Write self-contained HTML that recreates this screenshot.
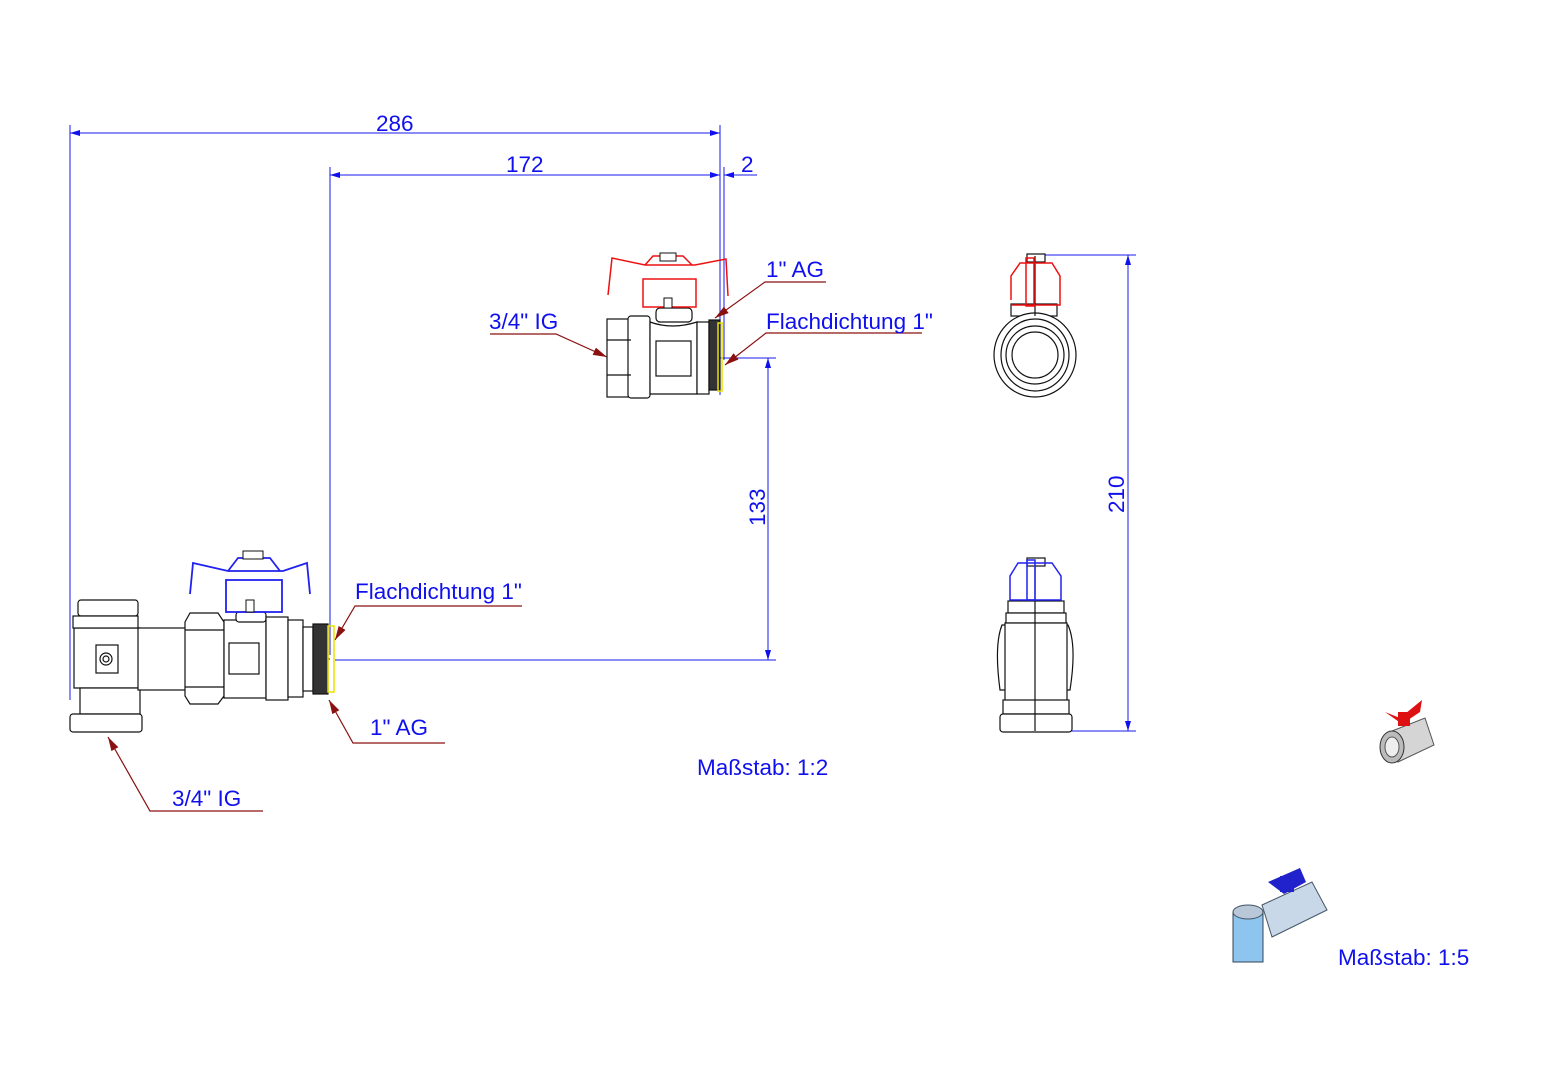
<!DOCTYPE html>
<html><head><meta charset="utf-8"><style>
html,body{margin:0;padding:0;background:#fff;}
svg{display:block}
text{font-family:"Liberation Sans",Arial,sans-serif;fill:#1010ee;font-size:22.5px}
</style></head><body>
<svg width="1541" height="1080" viewBox="0 0 1541 1080" xmlns="http://www.w3.org/2000/svg">
<defs>
<marker id="ab" viewBox="0 0 10 6" refX="10" refY="3" markerWidth="10" markerHeight="6" orient="auto-start-reverse" markerUnits="userSpaceOnUse"><path d="M0,0 L10,3 L0,6z" fill="#1010ee"/></marker>
<marker id="ar" viewBox="0 0 14 8" refX="14" refY="4" markerWidth="14" markerHeight="8" orient="auto" markerUnits="userSpaceOnUse"><path d="M0,0 L14,4 L0,8z" fill="#8b1010"/></marker>
</defs>
<g stroke="#1a1aee" stroke-width="1" fill="none">
<line x1="70" y1="125" x2="70" y2="700"/>
<line x1="720" y1="125" x2="720" y2="395"/>
<line x1="330" y1="167" x2="330" y2="655"/>
<line x1="724" y1="167" x2="724" y2="360"/>
<line x1="70" y1="133" x2="720" y2="133" marker-start="url(#ab)" marker-end="url(#ab)"/>
<line x1="330" y1="175" x2="720" y2="175" marker-start="url(#ab)" marker-end="url(#ab)"/>
<line x1="757" y1="175" x2="724" y2="175" marker-end="url(#ab)"/>
<line x1="700" y1="175" x2="720" y2="175"/>
<line x1="710" y1="358" x2="776" y2="358"/>
<line x1="335" y1="660" x2="776" y2="660"/>
<line x1="768" y1="358" x2="768" y2="660" marker-start="url(#ab)" marker-end="url(#ab)"/>
<line x1="1030" y1="255" x2="1136" y2="255"/>
<line x1="1030" y1="731" x2="1136" y2="731"/>
<line x1="1128" y1="255" x2="1128" y2="731" marker-start="url(#ab)" marker-end="url(#ab)"/>
<line x1="612" y1="352" x2="720" y2="352" stroke-dasharray="6,3"/>
<line x1="200" y1="659" x2="330" y2="659" stroke-dasharray="6,3"/>
</g>
<text x="376" y="131">286</text>
<text x="506" y="172">172</text>
<text x="741" y="172">2</text>
<text transform="translate(765,526) rotate(-90)">133</text>
<text transform="translate(1124,513) rotate(-90)">210</text>

<g stroke="#8b1010" stroke-width="1.2" fill="none">
<polyline points="490,334 556,334 607,357" marker-end="url(#ar)"/>
<polyline points="826,282 765,282 715,318" marker-end="url(#ar)"/>
<polyline points="922,333 766,333 725,365" marker-end="url(#ar)"/>
<polyline points="522,606 355,606 335,640" marker-end="url(#ar)"/>
<polyline points="445,743 353,743 329,700" marker-end="url(#ar)"/>
<polyline points="263,811 150,811 108,737" marker-end="url(#ar)"/>
</g>
<text x="489" y="329">3/4" IG</text>
<text x="766" y="277">1" AG</text>
<text x="766" y="329">Flachdichtung 1"</text>
<text x="355" y="599">Flachdichtung 1"</text>
<text x="370" y="735">1" AG</text>
<text x="172" y="806">3/4" IG</text>
<text x="697" y="775">Maßstab: 1:2</text>
<text x="1338" y="965">Maßstab: 1:5</text>

<g stroke="#111" stroke-width="1.2" fill="#fff">
<rect x="607" y="319" width="24" height="78"/>
<rect x="628" y="316" width="22" height="82" rx="3"/>
<path d="M650,322 L650,394 L697,394 L697,322 Q672,330 650,322z"/>
<rect x="656" y="308" width="36" height="14" rx="4"/>
<rect x="656" y="341" width="35" height="35"/>
<rect x="697" y="322" width="12" height="72"/>
<rect x="709" y="320" width="11" height="70" fill="#333"/>
<line x1="607" y1="340" x2="631" y2="340"/><line x1="607" y1="375" x2="631" y2="375"/>
</g>
<rect x="718" y="323" width="4" height="68" fill="none" stroke="#e8e000" stroke-width="1.5"/>
<g stroke="#ee1010" stroke-width="1.5" fill="none">
<path d="M608,295 L612,258 L645,265 L695,265 L726,259 L728,296"/>
<path d="M645,265 L653,256 L683,256 L692,265"/>
<rect x="643" y="279" width="53" height="28"/>
</g>
<rect x="660" y="253" width="16" height="8" fill="#fff" stroke="#111"/>
<rect x="664" y="298" width="8" height="10" fill="#fff" stroke="#111"/>

<g stroke="#111" stroke-width="1.2" fill="#fff">
<rect x="78" y="600" width="60" height="16" rx="3"/>
<path d="M74,628 L74,688 L140,688 L140,628z"/>
<rect x="73" y="616" width="65" height="12"/>
<rect x="80" y="688" width="60" height="26"/>
<rect x="70" y="714" width="72" height="18" rx="3"/>
<rect x="96" y="645" width="22" height="28"/>
<circle cx="106" cy="659" r="6"/><circle cx="106" cy="659" r="3"/>
<rect x="138" y="628" width="48" height="62"/>
<path d="M185,622 L190,613 L218,613 L224,622 L224,696 L218,704 L190,704 L185,696z"/>
<line x1="185" y1="630" x2="224" y2="630"/><line x1="185" y1="687" x2="224" y2="687"/>
<rect x="224" y="620" width="42" height="78"/>
<rect x="229" y="643" width="30" height="31"/>
<rect x="236" y="612" width="30" height="10" rx="3"/>
<rect x="266" y="617" width="22" height="83"/>
<rect x="288" y="620" width="15" height="77"/>
<rect x="303" y="627" width="10" height="64"/>
<rect x="313" y="624" width="15" height="70" fill="#333"/>
</g>
<rect x="328" y="626" width="6" height="66" fill="none" stroke="#e8e000" stroke-width="1.5"/>
<g stroke="#2222ee" stroke-width="1.8" fill="none">
<path d="M190,594 L193,563 L228,571 L283,571 L307,563 L310,594"/>
<path d="M228,571 L238,558 L270,558 L280,571"/>
<rect x="226" y="580" width="56" height="32"/>
</g>
<rect x="243" y="551" width="20" height="8" fill="#fff" stroke="#111"/>
<rect x="246" y="600" width="8" height="12" fill="#fff" stroke="#111"/>

<g stroke="#111" stroke-width="1.2" fill="#fff">
<rect x="1011" y="304" width="46" height="12"/>
<ellipse cx="1035" cy="355" rx="41" ry="42"/>
<ellipse cx="1035" cy="355" rx="34" ry="36"/>
<circle cx="1035" cy="355" r="29"/>
<circle cx="1035" cy="355" r="23"/>
<rect x="1027" y="254" width="18" height="8"/>
<rect x="1008" y="601" width="56" height="12"/>
<rect x="1006" y="613" width="60" height="10"/>
<path d="M1002,625 Q994,645 1000,690 L1070,690 Q1077,645 1068,625z"/>
<rect x="1005" y="623" width="62" height="78"/>
<rect x="1003" y="700" width="66" height="14"/>
<rect x="1000" y="714" width="72" height="18" rx="3"/>
<line x1="1035" y1="256" x2="1035" y2="316"/>
<line x1="1035" y1="560" x2="1035" y2="731"/>
<rect x="1027" y="558" width="18" height="8"/>
</g>
<g stroke="#ee1010" stroke-width="1.5" fill="none">
<path d="M1011,300 L1011,276 L1020,263 L1052,263 L1060,276 L1060,305 L1011,305"/>
<rect x="1026" y="258" width="8" height="48"/>
</g>
<g stroke="#2222ee" stroke-width="1.5" fill="none">
<path d="M1010,600 L1010,576 L1018,563 L1052,563 L1061,576 L1061,600z"/>
<rect x="1027" y="560" width="8" height="40"/>
</g>

<g>
<path d="M1392,731 L1425,718 L1434,745 L1398,762z" fill="#d5d5d5" stroke="#555"/>
<ellipse cx="1392" cy="747" rx="12" ry="16" fill="#bbb" stroke="#333"/>
<ellipse cx="1392" cy="747" rx="7" ry="10" fill="#eee" stroke="#555"/>
<path d="M1385,712 L1400,718 L1422,700 L1420,712 L1402,724z" fill="#dd1111"/>
<rect x="1398" y="712" width="12" height="14" fill="#dd1111"/>
<path d="M1262,905 L1312,882 L1327,910 L1272,937z" fill="#c8d8e8" stroke="#456"/>
<rect x="1233" y="912" width="30" height="50" fill="#8ec5ee" stroke="#345"/>
<ellipse cx="1248" cy="912" rx="15" ry="7" fill="#b9c8d8" stroke="#456"/>
<path d="M1268,882 L1300,868 L1306,882 L1284,894z" fill="#2222cc"/>
<rect x="1280" y="876" width="14" height="16" fill="#2222cc"/>
</g>
</svg>
</body></html>
